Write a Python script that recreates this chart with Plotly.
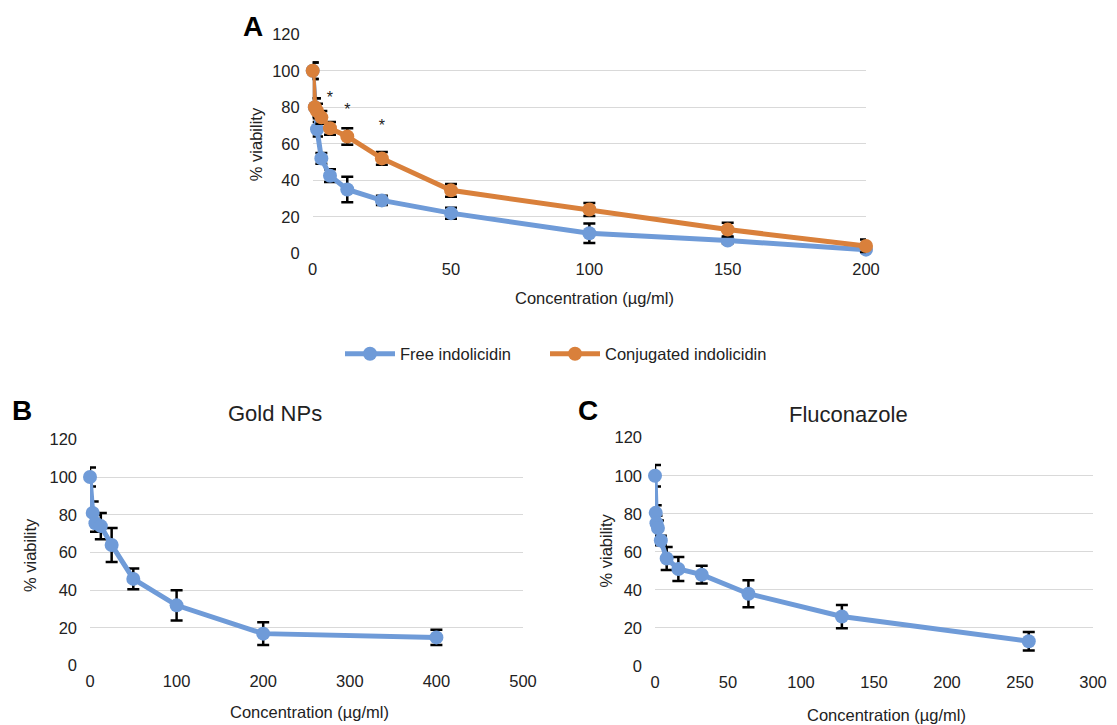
import plotly.graph_objects as go

# ---------------- data ----------------
# Panel A: indolicidin
a_conc = [0, 0.78, 1.56, 3.125, 6.25, 12.5, 25, 50, 100, 150, 200]
free_vals = [100, 80, 68, 52, 42.5, 35, 29, 22, 11, 7, 2]
free_err = [4.5, 5, 4, 3, 3.5, 7, 2.5, 3, 5.3, 1.5, 1]
conj_vals = [100, 80, 78, 74.5, 68.5, 64, 52, 34.5, 24, 13, 4]
conj_err = [4.5, 5, 4, 3.5, 3.5, 4.5, 3.5, 3.5, 3.5, 3.8, 3.5]
star_conc = [6.25, 12.5, 25]
star_y = [84.3, 78, 69]

# Panel B: Gold NPs
b_conc = [0, 3.125, 6.25, 12.5, 25, 50, 100, 200, 400]
gold_vals = [100, 81, 75.5, 74, 64, 46, 32, 17, 15]
gold_err = [5, 6, 4.5, 7, 9, 5.5, 8, 6, 4]

# Panel C: Fluconazole
c_conc = [0, 0.5, 1, 2, 4, 8, 16, 32, 64, 128, 256]
fluc_vals = [100, 80.5, 75, 72.5, 66, 56.5, 51, 48, 38, 26, 13]
fluc_err = [5.6, 4, 4, 4, 2.5, 6, 6.3, 4.7, 7.1, 6.1, 4.9]

y_ticks = [0, 20, 40, 60, 80, 100, 120]

BLUE = "#6f9bd8"
ORANGE = "#d9803b"
FONT = "Liberation Sans, Arial, sans-serif"
TXT = "#222222"
GRID = "#d9d9d9"

W, H = 1117, 725


def px(x):
    return x / W


def py(y):
    return 1 - y / H


fig = go.Figure()

err_style = dict(type="data", color="black", thickness=2.5, width=6, visible=True)


def add_series(x, y, err, color, name, xa, ya, showlegend, legend="legend"):
    fig.add_trace(go.Scatter(
        x=x, y=y, name=name, mode="lines+markers",
        line=dict(color=color, width=5),
        marker=dict(color=color, size=14),
        error_y=dict(array=err, **err_style),
        xaxis=xa, yaxis=ya, showlegend=showlegend, cliponaxis=False,
        legend=legend,
    ))


add_series(a_conc, free_vals, free_err, BLUE, "Free indolicidin", "x", "y", True, "legend")
add_series(a_conc, conj_vals, conj_err, ORANGE, "Conjugated indolicidin", "x", "y", True, "legend2")
add_series(b_conc, gold_vals, gold_err, BLUE, "Gold NPs", "x2", "y2", False)
add_series(c_conc, fluc_vals, fluc_err, BLUE, "Fluconazole", "x3", "y3", False)

# significance stars
fig.add_trace(go.Scatter(
    x=star_conc, y=star_y, mode="text", text=["*"] * len(star_conc),
    textfont=dict(size=16, color=TXT, family=FONT), showlegend=False,
    xaxis="x", yaxis="y", cliponaxis=False, hoverinfo="skip",
))

tickfont = dict(size=16.5, color=TXT, family=FONT)


def xaxis(domain, rng, dtick):
    return dict(domain=domain, range=rng, dtick=dtick, tick0=0, showgrid=False,
                zeroline=False, showline=False, ticks="", tickfont=tickfont,
                ticklabelstandoff=4, fixedrange=True, automargin=False)


def yaxis(domain, anchor):
    return dict(domain=domain, range=[0, 120], tickvals=y_ticks, showgrid=True,
                gridcolor=GRID, gridwidth=1.3, zeroline=False, showline=False,
                ticks="", tickfont=tickfont, ticklabelstandoff=12, anchor=anchor,
                fixedrange=True, automargin=False)


legend_common = dict(orientation="h", xanchor="left", y=py(354), yanchor="middle",
                     font=dict(size=16.5, color=TXT, family=FONT), bgcolor="rgba(0,0,0,0)",
                     itemwidth=50)

fig.update_layout(
    width=W, height=H,
    margin=dict(l=0, r=0, t=0, b=0, pad=0, autoexpand=False),
    paper_bgcolor="white", plot_bgcolor="white",
    font=dict(family=FONT, color=TXT),
    xaxis=dict(**xaxis([px(312.7), px(866)], [0, 200], 50), anchor="y"),
    yaxis=yaxis([py(253.3), py(34.3)], "x"),
    xaxis2=dict(**xaxis([px(90), px(523)], [0, 500], 100), anchor="y2"),
    yaxis2=yaxis([py(665.7), py(439.3)], "x2"),
    xaxis3=dict(**xaxis([px(655), px(1093)], [0, 300], 50), anchor="y3"),
    yaxis3=yaxis([py(666), py(437.7)], "x3"),
    legend=dict(x=px(340), **legend_common),
    legend2=dict(x=px(545), **legend_common),
    showlegend=True,
)

ann = []


def text(x, y, s, size, bold=False, angle=0):
    ann.append(dict(x=px(x), y=py(y), xref="paper", yref="paper", text=f"<b>{s}</b>" if bold else s,
                    showarrow=False, xanchor="center", yanchor="middle", textangle=angle,
                    font=dict(size=size, color="black" if bold else TXT, family=FONT)))


# panel letters
text(252.5, 26.5, "A", 28, bold=True)
text(22, 411, "B", 28, bold=True)
text(587.5, 411, "C", 28, bold=True)
# titles
text(275, 413, "Gold NPs", 22)
text(848, 414, "Fluconazole", 22)
# axis titles
text(256.7, 144.5, "% viability", 16.5, angle=-90)
text(30, 555, "% viability", 16.5, angle=-90)
text(605, 550.5, "% viability", 16.5, angle=-90)
text(594, 298, "Concentration (µg/ml)", 16.5)
text(309.7, 712, "Concentration (µg/ml)", 16.5)
text(886, 715, "Concentration (µg/ml)", 16.5)

fig.update_layout(annotations=ann)

fig.write_html(
    "out.html",
    config={"displayModeBar": False},
    post_script="document.body.style.margin='0';document.body.style.overflow='hidden';",
)
